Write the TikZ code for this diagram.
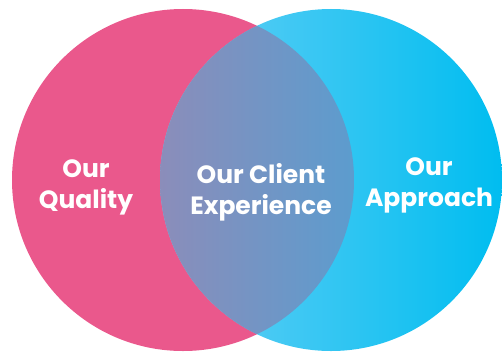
\documentclass[tikz,border=0pt]{standalone}
\usepackage{fontspec}
\setmainfont{Poppins}
\definecolor{pinkc}{RGB}{234,88,140}
\definecolor{blueL}{RGB}{104,207,245}
\definecolor{blueR}{RGB}{0,189,240}
\definecolor{midL}{RGB}{139,141,186}
\definecolor{midR}{RGB}{92,156,206}
\tikzset{lbl/.style={text=white, font=\fontsize{25}{31}\selectfont\bfseries, align=center, inner sep=0pt}}
\begin{document}
\begin{tikzpicture}[x=1pt,y=-1pt]
\useasboundingbox (0,0) rectangle (502,361);
\fill[pinkc] (183,180) circle[radius=171];
\shade[left color=blueL, right color=blueR] (331,180) circle[radius=171];
\begin{scope}
\clip (331,180) circle[radius=171];
\clip (183,180) circle[radius=171];
\shade[left color=midL, right color=midR] (160,0) rectangle (354,361);
\end{scope}
\node[lbl] (q) at (86,187) {Our\\Quality};
\node[lbl] (c) at (261,192) {Our Client\\Experience};
\node[lbl] (a) at (429,185) {Our\\Approach};
\end{tikzpicture}
\end{document}
